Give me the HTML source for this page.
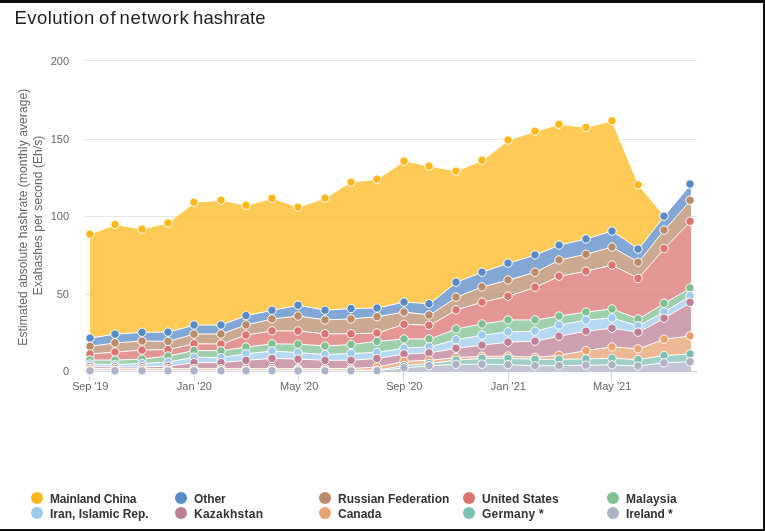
<!DOCTYPE html>
<html lang="en">
<head>
<meta charset="utf-8">
<title>Evolution of network hashrate</title>
<style>
html,body{margin:0;padding:0;background:#fff;}
body{width:765px;height:531px;overflow:hidden;position:relative;font-family:"Liberation Sans",Arial,sans-serif;}
#frame{position:absolute;left:0;top:0;width:765px;height:531px;box-sizing:border-box;border-top:3px solid #0d0d0d;border-right:2px solid #0d0d0d;border-bottom:2px solid #0d0d0d;background:#fff;}
h1{position:absolute;left:0;top:7px;width:400px;height:22px;transform:translateY(-0.4px);margin:0;font-size:18.5px;line-height:22px;font-weight:normal;color:#1e1e26;white-space:nowrap;}
h1 span{position:absolute;top:0;}
svg{position:absolute;left:0;top:0;}
svg text{font-family:"Liberation Sans",Arial,sans-serif;}
.yl{font-size:11px;fill:#666;text-anchor:end;}
.xl{font-size:11px;fill:#666;text-anchor:middle;}
.yt{font-size:12px;fill:#666;text-anchor:middle;}
.lg{font-size:12px;font-weight:bold;fill:#333;}
</style>
</head>
<body>
<div id="frame"></div>
<h1><span style="left:14.4px;letter-spacing:0.46px">Evolution</span> <span style="left:99.1px;letter-spacing:1.1px">of</span> <span style="left:119.5px;letter-spacing:0.76px">network</span> <span style="left:193.1px;letter-spacing:0.07px">hashrate</span></h1>
<svg width="765" height="531" viewBox="0 0 765 531">

<g stroke="#e6e6e6" stroke-width="1" shape-rendering="crispEdges">
<line x1="84" x2="697" y1="60.5" y2="60.5"/>
<line x1="84" x2="697" y1="139.5" y2="139.5"/>
<line x1="84" x2="697" y1="216.5" y2="216.5"/>
<line x1="84" x2="697" y1="294.5" y2="294.5"/>
</g>
<g stroke="#ccd6eb" stroke-width="1" shape-rendering="crispEdges">
<line x1="84" x2="697" y1="371.5" y2="371.5"/>
<line x1="89.5" x2="89.5" y1="371" y2="381"/>
<line x1="194.5" x2="194.5" y1="371" y2="381"/>
<line x1="298.5" x2="298.5" y1="371" y2="381"/>
<line x1="403.5" x2="403.5" y1="371" y2="381"/>
<line x1="508.5" x2="508.5" y1="371" y2="381"/>
<line x1="611.5" x2="611.5" y1="371" y2="381"/>
</g>
<g>
<path d="M90.05 234.2 L115.8 224.4 L142.41 229.15 L168.16 222.9 L194.77 202.2 L221.39 200.2 L246.28 205.2 L272.89 198.3 L298.64 207.2 L325.25 198.1 L351 182.1 L377.61 179.1 L404.22 161.1 L429.98 166.1 L456.59 171.1 L482.34 160.3 L508.95 140 L535.56 131.2 L559.59 124.3 L586.21 127.4 L611.96 120.8 L638.57 184.8 L664.32 216.15 L664.32 216.15 L638.57 249.05 L611.96 231.05 L586.21 238.95 L559.59 245.1 L535.56 254.95 L508.95 263.1 L482.34 272.15 L456.59 282.15 L429.98 303.75 L404.22 302.05 L377.61 308 L351 308.5 L325.25 310.2 L298.64 305.2 L272.89 310.2 L246.28 315.6 L221.39 325 L194.77 325 L168.16 332.1 L142.41 332.3 L115.8 334.1 L90.05 338.1 Z" fill="#ffb81c" fill-opacity="0.75"/>
<path d="M90.05 234.2 L115.8 224.4 L142.41 229.15 L168.16 222.9 L194.77 202.2 L221.39 200.2 L246.28 205.2 L272.89 198.3 L298.64 207.2 L325.25 198.1 L351 182.1 L377.61 179.1 L404.22 161.1 L429.98 166.1 L456.59 171.1 L482.34 160.3 L508.95 140 L535.56 131.2 L559.59 124.3 L586.21 127.4 L611.96 120.8 L638.57 184.8 L664.32 216.15" fill="none" stroke="#fff" stroke-width="1" stroke-linejoin="round" stroke-linecap="round"/>
<g fill="#ffb81c" stroke="#fff" stroke-width="1">
<circle cx="90" cy="234.2" r="4.2"/>
<circle cx="115" cy="224.4" r="4.2"/>
<circle cx="142" cy="229.15" r="4.2"/>
<circle cx="168" cy="222.9" r="4.2"/>
<circle cx="194" cy="202.2" r="4.2"/>
<circle cx="221" cy="200.2" r="4.2"/>
<circle cx="246" cy="205.2" r="4.2"/>
<circle cx="272" cy="198.3" r="4.2"/>
<circle cx="298" cy="207.2" r="4.2"/>
<circle cx="325" cy="198.1" r="4.2"/>
<circle cx="351" cy="182.1" r="4.2"/>
<circle cx="377" cy="179.1" r="4.2"/>
<circle cx="404" cy="161.1" r="4.2"/>
<circle cx="429" cy="166.1" r="4.2"/>
<circle cx="456" cy="171.1" r="4.2"/>
<circle cx="482" cy="160.3" r="4.2"/>
<circle cx="508" cy="140" r="4.2"/>
<circle cx="535" cy="131.2" r="4.2"/>
<circle cx="559" cy="124.3" r="4.2"/>
<circle cx="586" cy="127.4" r="4.2"/>
<circle cx="612" cy="120.8" r="4.2"/>
<circle cx="638" cy="184.8" r="4.2"/>
<circle cx="664" cy="216.15" r="4.2"/>
</g></g>
<g>
<path d="M90.05 338.1 L115.8 334.1 L142.41 332.3 L168.16 332.1 L194.77 325 L221.39 325 L246.28 315.6 L272.89 310.2 L298.64 305.2 L325.25 310.2 L351 308.5 L377.61 308 L404.22 302.05 L429.98 303.75 L456.59 282.15 L482.34 272.15 L508.95 263.1 L535.56 254.95 L559.59 245.1 L586.21 238.95 L611.96 231.05 L638.57 249.05 L664.32 216.15 L690.93 184.05 L690.93 200.25 L664.32 230.05 L638.57 262.25 L611.96 247.05 L586.21 254.25 L559.59 259.95 L535.56 272.15 L508.95 279.95 L482.34 286.85 L456.59 297.15 L429.98 314.95 L404.22 312.05 L377.61 316.7 L351 318.9 L325.25 319.9 L298.64 316 L272.89 318.9 L246.28 324.9 L221.39 334 L194.77 334 L168.16 341.4 L142.41 341 L115.8 342.9 L90.05 346.3 Z" fill="#5a8ac6" fill-opacity="0.75"/>
<path d="M90.05 338.1 L115.8 334.1 L142.41 332.3 L168.16 332.1 L194.77 325 L221.39 325 L246.28 315.6 L272.89 310.2 L298.64 305.2 L325.25 310.2 L351 308.5 L377.61 308 L404.22 302.05 L429.98 303.75 L456.59 282.15 L482.34 272.15 L508.95 263.1 L535.56 254.95 L559.59 245.1 L586.21 238.95 L611.96 231.05 L638.57 249.05 L664.32 216.15 L690.93 184.05" fill="none" stroke="#fff" stroke-width="1" stroke-linejoin="round" stroke-linecap="round"/>
<g fill="#5a8ac6" stroke="#fff" stroke-width="1">
<circle cx="90" cy="338.1" r="4.2"/>
<circle cx="115" cy="334.1" r="4.2"/>
<circle cx="142" cy="332.3" r="4.2"/>
<circle cx="168" cy="332.1" r="4.2"/>
<circle cx="194" cy="325" r="4.2"/>
<circle cx="221" cy="325" r="4.2"/>
<circle cx="246" cy="315.6" r="4.2"/>
<circle cx="272" cy="310.2" r="4.2"/>
<circle cx="298" cy="305.2" r="4.2"/>
<circle cx="325" cy="310.2" r="4.2"/>
<circle cx="351" cy="308.5" r="4.2"/>
<circle cx="377" cy="308" r="4.2"/>
<circle cx="404" cy="302.05" r="4.2"/>
<circle cx="429" cy="303.75" r="4.2"/>
<circle cx="456" cy="282.15" r="4.2"/>
<circle cx="482" cy="272.15" r="4.2"/>
<circle cx="508" cy="263.1" r="4.2"/>
<circle cx="535" cy="254.95" r="4.2"/>
<circle cx="559" cy="245.1" r="4.2"/>
<circle cx="586" cy="238.95" r="4.2"/>
<circle cx="612" cy="231.05" r="4.2"/>
<circle cx="638" cy="249.05" r="4.2"/>
<circle cx="664" cy="216.15" r="4.2"/>
<circle cx="690" cy="184.05" r="4.2"/>
</g></g>
<g>
<path d="M90.05 346.3 L115.8 342.9 L142.41 341 L168.16 341.4 L194.77 334 L221.39 334 L246.28 324.9 L272.89 318.9 L298.64 316 L325.25 319.9 L351 318.9 L377.61 316.7 L404.22 312.05 L429.98 314.95 L456.59 297.15 L482.34 286.85 L508.95 279.95 L535.56 272.15 L559.59 259.95 L586.21 254.25 L611.96 247.05 L638.57 262.25 L664.32 230.05 L690.93 200.25 L690.93 221.25 L664.32 248.45 L638.57 278.35 L611.96 265.15 L586.21 271.15 L559.59 276.15 L535.56 287.15 L508.95 296.15 L482.34 302.15 L456.59 309.85 L429.98 325.25 L404.22 324.25 L377.61 333 L351 333.8 L325.25 333.8 L298.64 331 L272.89 330.8 L246.28 335 L221.39 344 L194.77 343.8 L168.16 349.6 L142.41 350 L115.8 352 L90.05 354 Z" fill="#b98b6b" fill-opacity="0.75"/>
<path d="M90.05 346.3 L115.8 342.9 L142.41 341 L168.16 341.4 L194.77 334 L221.39 334 L246.28 324.9 L272.89 318.9 L298.64 316 L325.25 319.9 L351 318.9 L377.61 316.7 L404.22 312.05 L429.98 314.95 L456.59 297.15 L482.34 286.85 L508.95 279.95 L535.56 272.15 L559.59 259.95 L586.21 254.25 L611.96 247.05 L638.57 262.25 L664.32 230.05 L690.93 200.25" fill="none" stroke="#fff" stroke-width="1" stroke-linejoin="round" stroke-linecap="round"/>
<g fill="#b98b6b" stroke="#fff" stroke-width="1">
<circle cx="90" cy="346.3" r="4.2"/>
<circle cx="115" cy="342.9" r="4.2"/>
<circle cx="142" cy="341" r="4.2"/>
<circle cx="168" cy="341.4" r="4.2"/>
<circle cx="194" cy="334" r="4.2"/>
<circle cx="221" cy="334" r="4.2"/>
<circle cx="246" cy="324.9" r="4.2"/>
<circle cx="272" cy="318.9" r="4.2"/>
<circle cx="298" cy="316" r="4.2"/>
<circle cx="325" cy="319.9" r="4.2"/>
<circle cx="351" cy="318.9" r="4.2"/>
<circle cx="377" cy="316.7" r="4.2"/>
<circle cx="404" cy="312.05" r="4.2"/>
<circle cx="429" cy="314.95" r="4.2"/>
<circle cx="456" cy="297.15" r="4.2"/>
<circle cx="482" cy="286.85" r="4.2"/>
<circle cx="508" cy="279.95" r="4.2"/>
<circle cx="535" cy="272.15" r="4.2"/>
<circle cx="559" cy="259.95" r="4.2"/>
<circle cx="586" cy="254.25" r="4.2"/>
<circle cx="612" cy="247.05" r="4.2"/>
<circle cx="638" cy="262.25" r="4.2"/>
<circle cx="664" cy="230.05" r="4.2"/>
<circle cx="690" cy="200.25" r="4.2"/>
</g></g>
<g>
<path d="M90.05 354 L115.8 352 L142.41 350 L168.16 349.6 L194.77 343.8 L221.39 344 L246.28 335 L272.89 330.8 L298.64 331 L325.25 333.8 L351 333.8 L377.61 333 L404.22 324.25 L429.98 325.25 L456.59 309.85 L482.34 302.15 L508.95 296.15 L535.56 287.15 L559.59 276.15 L586.21 271.15 L611.96 265.15 L638.57 278.35 L664.32 248.45 L690.93 221.25 L690.93 287.95 L664.32 303.25 L638.57 318.9 L611.96 308.95 L586.21 312.05 L559.59 316.05 L535.56 319.95 L508.95 319.95 L482.34 323.95 L456.59 328.95 L429.98 338.95 L404.22 338.95 L377.61 341.4 L351 344.5 L325.25 346 L298.64 344.2 L272.89 343.8 L246.28 347 L221.39 350.8 L194.77 350.4 L168.16 356 L142.41 359.1 L115.8 360.1 L90.05 360 Z" fill="#db7371" fill-opacity="0.75"/>
<path d="M90.05 354 L115.8 352 L142.41 350 L168.16 349.6 L194.77 343.8 L221.39 344 L246.28 335 L272.89 330.8 L298.64 331 L325.25 333.8 L351 333.8 L377.61 333 L404.22 324.25 L429.98 325.25 L456.59 309.85 L482.34 302.15 L508.95 296.15 L535.56 287.15 L559.59 276.15 L586.21 271.15 L611.96 265.15 L638.57 278.35 L664.32 248.45 L690.93 221.25" fill="none" stroke="#fff" stroke-width="1" stroke-linejoin="round" stroke-linecap="round"/>
<g fill="#db7371" stroke="#fff" stroke-width="1">
<circle cx="90" cy="354" r="4.2"/>
<circle cx="115" cy="352" r="4.2"/>
<circle cx="142" cy="350" r="4.2"/>
<circle cx="168" cy="349.6" r="4.2"/>
<circle cx="194" cy="343.8" r="4.2"/>
<circle cx="221" cy="344" r="4.2"/>
<circle cx="246" cy="335" r="4.2"/>
<circle cx="272" cy="330.8" r="4.2"/>
<circle cx="298" cy="331" r="4.2"/>
<circle cx="325" cy="333.8" r="4.2"/>
<circle cx="351" cy="333.8" r="4.2"/>
<circle cx="377" cy="333" r="4.2"/>
<circle cx="404" cy="324.25" r="4.2"/>
<circle cx="429" cy="325.25" r="4.2"/>
<circle cx="456" cy="309.85" r="4.2"/>
<circle cx="482" cy="302.15" r="4.2"/>
<circle cx="508" cy="296.15" r="4.2"/>
<circle cx="535" cy="287.15" r="4.2"/>
<circle cx="559" cy="276.15" r="4.2"/>
<circle cx="586" cy="271.15" r="4.2"/>
<circle cx="612" cy="265.15" r="4.2"/>
<circle cx="638" cy="278.35" r="4.2"/>
<circle cx="664" cy="248.45" r="4.2"/>
<circle cx="690" cy="221.25" r="4.2"/>
</g></g>
<g>
<path d="M90.05 360 L115.8 360.1 L142.41 359.1 L168.16 356 L194.77 350.4 L221.39 350.8 L246.28 347 L272.89 343.8 L298.64 344.2 L325.25 346 L351 344.5 L377.61 341.4 L404.22 338.95 L429.98 338.95 L456.59 328.95 L482.34 323.95 L508.95 319.95 L535.56 319.95 L559.59 316.05 L586.21 312.05 L611.96 308.95 L638.57 318.9 L664.32 303.25 L690.93 287.95 L690.93 295.75 L664.32 311.85 L638.57 325.85 L611.96 317.95 L586.21 320.05 L559.59 324.95 L535.56 331.15 L508.95 331.85 L482.34 335.15 L456.59 339.65 L429.98 346.75 L404.22 348.15 L377.61 352.4 L351 353.5 L325.25 354.5 L298.64 352.7 L272.89 351 L246.28 353.8 L221.39 357.6 L194.77 357.2 L168.16 362 L142.41 363.5 L115.8 364.6 L90.05 364 Z" fill="#80bf90" fill-opacity="0.75"/>
<path d="M90.05 360 L115.8 360.1 L142.41 359.1 L168.16 356 L194.77 350.4 L221.39 350.8 L246.28 347 L272.89 343.8 L298.64 344.2 L325.25 346 L351 344.5 L377.61 341.4 L404.22 338.95 L429.98 338.95 L456.59 328.95 L482.34 323.95 L508.95 319.95 L535.56 319.95 L559.59 316.05 L586.21 312.05 L611.96 308.95 L638.57 318.9 L664.32 303.25 L690.93 287.95" fill="none" stroke="#fff" stroke-width="1" stroke-linejoin="round" stroke-linecap="round"/>
<g fill="#80bf90" stroke="#fff" stroke-width="1">
<circle cx="90" cy="360" r="4.2"/>
<circle cx="115" cy="360.1" r="4.2"/>
<circle cx="142" cy="359.1" r="4.2"/>
<circle cx="168" cy="356" r="4.2"/>
<circle cx="194" cy="350.4" r="4.2"/>
<circle cx="221" cy="350.8" r="4.2"/>
<circle cx="246" cy="347" r="4.2"/>
<circle cx="272" cy="343.8" r="4.2"/>
<circle cx="298" cy="344.2" r="4.2"/>
<circle cx="325" cy="346" r="4.2"/>
<circle cx="351" cy="344.5" r="4.2"/>
<circle cx="377" cy="341.4" r="4.2"/>
<circle cx="404" cy="338.95" r="4.2"/>
<circle cx="429" cy="338.95" r="4.2"/>
<circle cx="456" cy="328.95" r="4.2"/>
<circle cx="482" cy="323.95" r="4.2"/>
<circle cx="508" cy="319.95" r="4.2"/>
<circle cx="535" cy="319.95" r="4.2"/>
<circle cx="559" cy="316.05" r="4.2"/>
<circle cx="586" cy="312.05" r="4.2"/>
<circle cx="612" cy="308.95" r="4.2"/>
<circle cx="638" cy="318.9" r="4.2"/>
<circle cx="664" cy="303.25" r="4.2"/>
<circle cx="690" cy="287.95" r="4.2"/>
</g></g>
<g>
<path d="M90.05 364 L115.8 364.6 L142.41 363.5 L168.16 362 L194.77 357.2 L221.39 357.6 L246.28 353.8 L272.89 351 L298.64 352.7 L325.25 354.5 L351 353.5 L377.61 352.4 L404.22 348.15 L429.98 346.75 L456.59 339.65 L482.34 335.15 L508.95 331.85 L535.56 331.15 L559.59 324.95 L586.21 320.05 L611.96 317.95 L638.57 325.85 L664.32 311.85 L690.93 295.75 L690.93 302.25 L664.32 318.25 L638.57 332.2 L611.96 328.25 L586.21 331.15 L559.59 336.15 L535.56 341.15 L508.95 342.15 L482.34 345.15 L456.59 348.25 L429.98 352.85 L404.22 354.05 L377.61 358.4 L351 360.3 L325.25 360.3 L298.64 359.1 L272.89 358.4 L246.28 360.3 L221.39 362.6 L194.77 362.6 L168.16 366.2 L142.41 366.8 L115.8 367 L90.05 366.4 Z" fill="#9ecbed" fill-opacity="0.75"/>
<path d="M90.05 364 L115.8 364.6 L142.41 363.5 L168.16 362 L194.77 357.2 L221.39 357.6 L246.28 353.8 L272.89 351 L298.64 352.7 L325.25 354.5 L351 353.5 L377.61 352.4 L404.22 348.15 L429.98 346.75 L456.59 339.65 L482.34 335.15 L508.95 331.85 L535.56 331.15 L559.59 324.95 L586.21 320.05 L611.96 317.95 L638.57 325.85 L664.32 311.85 L690.93 295.75" fill="none" stroke="#fff" stroke-width="1" stroke-linejoin="round" stroke-linecap="round"/>
<g fill="#9ecbed" stroke="#fff" stroke-width="1">
<circle cx="90" cy="364" r="4.2"/>
<circle cx="115" cy="364.6" r="4.2"/>
<circle cx="142" cy="363.5" r="4.2"/>
<circle cx="168" cy="362" r="4.2"/>
<circle cx="194" cy="357.2" r="4.2"/>
<circle cx="221" cy="357.6" r="4.2"/>
<circle cx="246" cy="353.8" r="4.2"/>
<circle cx="272" cy="351" r="4.2"/>
<circle cx="298" cy="352.7" r="4.2"/>
<circle cx="325" cy="354.5" r="4.2"/>
<circle cx="351" cy="353.5" r="4.2"/>
<circle cx="377" cy="352.4" r="4.2"/>
<circle cx="404" cy="348.15" r="4.2"/>
<circle cx="429" cy="346.75" r="4.2"/>
<circle cx="456" cy="339.65" r="4.2"/>
<circle cx="482" cy="335.15" r="4.2"/>
<circle cx="508" cy="331.85" r="4.2"/>
<circle cx="535" cy="331.15" r="4.2"/>
<circle cx="559" cy="324.95" r="4.2"/>
<circle cx="586" cy="320.05" r="4.2"/>
<circle cx="612" cy="317.95" r="4.2"/>
<circle cx="638" cy="325.85" r="4.2"/>
<circle cx="664" cy="311.85" r="4.2"/>
<circle cx="690" cy="295.75" r="4.2"/>
</g></g>
<g>
<path d="M90.05 366.4 L115.8 367 L142.41 366.8 L168.16 366.2 L194.77 362.6 L221.39 362.6 L246.28 360.3 L272.89 358.4 L298.64 359.1 L325.25 360.3 L351 360.3 L377.61 358.4 L404.22 354.05 L429.98 352.85 L456.59 348.25 L482.34 345.15 L508.95 342.15 L535.56 341.15 L559.59 336.15 L586.21 331.15 L611.96 328.25 L638.57 332.2 L664.32 318.25 L690.93 302.25 L690.93 335.9 L664.32 339.2 L638.57 348.9 L611.96 346.9 L586.21 350.6 L559.59 355.3 L535.56 357.3 L508.95 356.1 L482.34 356.3 L456.59 357.5 L429.98 360.3 L404.22 361.3 L377.61 367 L351 368.5 L325.25 368.65 L298.64 368.65 L272.89 368.65 L246.28 368.65 L221.39 368.65 L194.77 368.65 L168.16 368.65 L142.41 368.65 L115.8 368.65 L90.05 368.4 Z" fill="#bd7f95" fill-opacity="0.75"/>
<path d="M90.05 366.4 L115.8 367 L142.41 366.8 L168.16 366.2 L194.77 362.6 L221.39 362.6 L246.28 360.3 L272.89 358.4 L298.64 359.1 L325.25 360.3 L351 360.3 L377.61 358.4 L404.22 354.05 L429.98 352.85 L456.59 348.25 L482.34 345.15 L508.95 342.15 L535.56 341.15 L559.59 336.15 L586.21 331.15 L611.96 328.25 L638.57 332.2 L664.32 318.25 L690.93 302.25" fill="none" stroke="#fff" stroke-width="1" stroke-linejoin="round" stroke-linecap="round"/>
<g fill="#bd7f95" stroke="#fff" stroke-width="1">
<circle cx="90" cy="366.4" r="4.2"/>
<circle cx="115" cy="367" r="4.2"/>
<circle cx="142" cy="366.8" r="4.2"/>
<circle cx="168" cy="366.2" r="4.2"/>
<circle cx="194" cy="362.6" r="4.2"/>
<circle cx="221" cy="362.6" r="4.2"/>
<circle cx="246" cy="360.3" r="4.2"/>
<circle cx="272" cy="358.4" r="4.2"/>
<circle cx="298" cy="359.1" r="4.2"/>
<circle cx="325" cy="360.3" r="4.2"/>
<circle cx="351" cy="360.3" r="4.2"/>
<circle cx="377" cy="358.4" r="4.2"/>
<circle cx="404" cy="354.05" r="4.2"/>
<circle cx="429" cy="352.85" r="4.2"/>
<circle cx="456" cy="348.25" r="4.2"/>
<circle cx="482" cy="345.15" r="4.2"/>
<circle cx="508" cy="342.15" r="4.2"/>
<circle cx="535" cy="341.15" r="4.2"/>
<circle cx="559" cy="336.15" r="4.2"/>
<circle cx="586" cy="331.15" r="4.2"/>
<circle cx="612" cy="328.25" r="4.2"/>
<circle cx="638" cy="332.2" r="4.2"/>
<circle cx="664" cy="318.25" r="4.2"/>
<circle cx="690" cy="302.25" r="4.2"/>
</g></g>
<g>
<path d="M90.05 368.4 L115.8 368.65 L142.41 368.65 L168.16 368.65 L194.77 368.65 L221.39 368.65 L246.28 368.65 L272.89 368.65 L298.64 368.65 L325.25 368.65 L351 368.5 L377.61 367 L404.22 361.3 L429.98 360.3 L456.59 357.5 L482.34 356.3 L508.95 356.1 L535.56 357.3 L559.59 355.3 L586.21 350.6 L611.96 346.9 L638.57 348.9 L664.32 339.2 L690.93 335.9 L690.93 354 L664.32 355.5 L638.57 359.6 L611.96 358.3 L586.21 358.9 L559.59 359.35 L535.56 359.35 L508.95 358.3 L482.34 358.3 L456.59 360.2 L429.98 363.4 L404.22 365.6 L377.61 370.1 L351 370.3 L325.25 370.3 L298.64 370 L272.89 370.3 L246.28 370.3 L221.39 370.3 L194.77 370.3 L168.16 370.3 L142.41 370.3 L115.8 370.3 L90.05 370.1 Z" fill="#e7a270" fill-opacity="0.75"/>
<path d="M90.05 368.4 L115.8 368.65 L142.41 368.65 L168.16 368.65 L194.77 368.65 L221.39 368.65 L246.28 368.65 L272.89 368.65 L298.64 368.65 L325.25 368.65 L351 368.5 L377.61 367 L404.22 361.3 L429.98 360.3 L456.59 357.5 L482.34 356.3 L508.95 356.1 L535.56 357.3 L559.59 355.3 L586.21 350.6 L611.96 346.9 L638.57 348.9 L664.32 339.2 L690.93 335.9" fill="none" stroke="#fff" stroke-width="1" stroke-linejoin="round" stroke-linecap="round"/>
<g fill="#e7a270" stroke="#fff" stroke-width="1">
<circle cx="90" cy="368.4" r="4.2"/>
<circle cx="115" cy="368.65" r="4.2"/>
<circle cx="142" cy="368.65" r="4.2"/>
<circle cx="168" cy="368.65" r="4.2"/>
<circle cx="194" cy="368.65" r="4.2"/>
<circle cx="221" cy="368.65" r="4.2"/>
<circle cx="246" cy="368.65" r="4.2"/>
<circle cx="272" cy="368.65" r="4.2"/>
<circle cx="298" cy="368.65" r="4.2"/>
<circle cx="325" cy="368.65" r="4.2"/>
<circle cx="351" cy="368.5" r="4.2"/>
<circle cx="377" cy="367" r="4.2"/>
<circle cx="404" cy="361.3" r="4.2"/>
<circle cx="429" cy="360.3" r="4.2"/>
<circle cx="456" cy="357.5" r="4.2"/>
<circle cx="482" cy="356.3" r="4.2"/>
<circle cx="508" cy="356.1" r="4.2"/>
<circle cx="535" cy="357.3" r="4.2"/>
<circle cx="559" cy="355.3" r="4.2"/>
<circle cx="586" cy="350.6" r="4.2"/>
<circle cx="612" cy="346.9" r="4.2"/>
<circle cx="638" cy="348.9" r="4.2"/>
<circle cx="664" cy="339.2" r="4.2"/>
<circle cx="690" cy="335.9" r="4.2"/>
</g></g>
<g>
<path d="M90.05 370.1 L115.8 370.3 L142.41 370.3 L168.16 370.3 L194.77 370.3 L221.39 370.3 L246.28 370.3 L272.89 370.3 L298.64 370 L325.25 370.3 L351 370.3 L377.61 370.1 L404.22 365.6 L429.98 363.4 L456.59 360.2 L482.34 358.3 L508.95 358.3 L535.56 359.35 L559.59 359.35 L586.21 358.9 L611.96 358.3 L638.57 359.6 L664.32 355.5 L690.93 354 L690.93 361.8 L664.32 362.7 L638.57 366 L611.96 364.9 L586.21 365.2 L559.59 365.7 L535.56 365.8 L508.95 364.7 L482.34 364.2 L456.59 364.3 L429.98 365.7 L404.22 367.8 L377.61 370.7 L351 370.8 L325.25 370.8 L298.64 370.8 L272.89 370.8 L246.28 370.8 L221.39 370.8 L194.77 370.8 L168.16 370.8 L142.41 370.8 L115.8 370.8 L90.05 370.8 Z" fill="#7fc0b4" fill-opacity="0.75"/>
<path d="M90.05 370.1 L115.8 370.3 L142.41 370.3 L168.16 370.3 L194.77 370.3 L221.39 370.3 L246.28 370.3 L272.89 370.3 L298.64 370 L325.25 370.3 L351 370.3 L377.61 370.1 L404.22 365.6 L429.98 363.4 L456.59 360.2 L482.34 358.3 L508.95 358.3 L535.56 359.35 L559.59 359.35 L586.21 358.9 L611.96 358.3 L638.57 359.6 L664.32 355.5 L690.93 354" fill="none" stroke="#fff" stroke-width="1" stroke-linejoin="round" stroke-linecap="round"/>
<g fill="#7fc0b4" stroke="#fff" stroke-width="1">
<circle cx="90" cy="370.1" r="4.2"/>
<circle cx="115" cy="370.3" r="4.2"/>
<circle cx="142" cy="370.3" r="4.2"/>
<circle cx="168" cy="370.3" r="4.2"/>
<circle cx="194" cy="370.3" r="4.2"/>
<circle cx="221" cy="370.3" r="4.2"/>
<circle cx="246" cy="370.3" r="4.2"/>
<circle cx="272" cy="370.3" r="4.2"/>
<circle cx="298" cy="370" r="4.2"/>
<circle cx="325" cy="370.3" r="4.2"/>
<circle cx="351" cy="370.3" r="4.2"/>
<circle cx="377" cy="370.1" r="4.2"/>
<circle cx="404" cy="365.6" r="4.2"/>
<circle cx="429" cy="363.4" r="4.2"/>
<circle cx="456" cy="360.2" r="4.2"/>
<circle cx="482" cy="358.3" r="4.2"/>
<circle cx="508" cy="358.3" r="4.2"/>
<circle cx="535" cy="359.35" r="4.2"/>
<circle cx="559" cy="359.35" r="4.2"/>
<circle cx="586" cy="358.9" r="4.2"/>
<circle cx="612" cy="358.3" r="4.2"/>
<circle cx="638" cy="359.6" r="4.2"/>
<circle cx="664" cy="355.5" r="4.2"/>
<circle cx="690" cy="354" r="4.2"/>
</g></g>
<g>
<path d="M90.05 370.8 L115.8 370.8 L142.41 370.8 L168.16 370.8 L194.77 370.8 L221.39 370.8 L246.28 370.8 L272.89 370.8 L298.64 370.8 L325.25 370.8 L351 370.8 L377.61 370.7 L404.22 367.8 L429.98 365.7 L456.59 364.3 L482.34 364.2 L508.95 364.7 L535.56 365.8 L559.59 365.7 L586.21 365.2 L611.96 364.9 L638.57 366 L664.32 362.7 L690.93 361.8 L690.93 371.5 L664.32 371.5 L638.57 371.5 L611.96 371.5 L586.21 371.5 L559.59 371.5 L535.56 371.5 L508.95 371.5 L482.34 371.5 L456.59 371.5 L429.98 371.5 L404.22 371.5 L377.61 371.5 L351 371.5 L325.25 371.5 L298.64 371.5 L272.89 371.5 L246.28 371.5 L221.39 371.5 L194.77 371.5 L168.16 371.5 L142.41 371.5 L115.8 371.5 L90.05 371.5 Z" fill="#adb2c5" fill-opacity="0.75"/>
<path d="M90.05 370.8 L115.8 370.8 L142.41 370.8 L168.16 370.8 L194.77 370.8 L221.39 370.8 L246.28 370.8 L272.89 370.8 L298.64 370.8 L325.25 370.8 L351 370.8 L377.61 370.7 L404.22 367.8 L429.98 365.7 L456.59 364.3 L482.34 364.2 L508.95 364.7 L535.56 365.8 L559.59 365.7 L586.21 365.2 L611.96 364.9 L638.57 366 L664.32 362.7 L690.93 361.8" fill="none" stroke="#fff" stroke-width="1" stroke-linejoin="round" stroke-linecap="round"/>
<g fill="#adb2c5" stroke="#fff" stroke-width="1">
<circle cx="90" cy="370.8" r="4.2"/>
<circle cx="115" cy="370.8" r="4.2"/>
<circle cx="142" cy="370.8" r="4.2"/>
<circle cx="168" cy="370.8" r="4.2"/>
<circle cx="194" cy="370.8" r="4.2"/>
<circle cx="221" cy="370.8" r="4.2"/>
<circle cx="246" cy="370.8" r="4.2"/>
<circle cx="272" cy="370.8" r="4.2"/>
<circle cx="298" cy="370.8" r="4.2"/>
<circle cx="325" cy="370.8" r="4.2"/>
<circle cx="351" cy="370.8" r="4.2"/>
<circle cx="377" cy="370.7" r="4.2"/>
<circle cx="404" cy="367.8" r="4.2"/>
<circle cx="429" cy="365.7" r="4.2"/>
<circle cx="456" cy="364.3" r="4.2"/>
<circle cx="482" cy="364.2" r="4.2"/>
<circle cx="508" cy="364.7" r="4.2"/>
<circle cx="535" cy="365.8" r="4.2"/>
<circle cx="559" cy="365.7" r="4.2"/>
<circle cx="586" cy="365.2" r="4.2"/>
<circle cx="612" cy="364.9" r="4.2"/>
<circle cx="638" cy="366" r="4.2"/>
<circle cx="664" cy="362.7" r="4.2"/>
<circle cx="690" cy="361.8" r="4.2"/>
</g></g>
<text class="yl" x="69" y="65">200</text>
<text class="yl" x="69" y="143">150</text>
<text class="yl" x="69" y="220">100</text>
<text class="yl" x="69" y="298">50</text>
<text class="yl" x="69" y="375">0</text>
<text class="xl" x="90.2" y="390" style="letter-spacing:-0.12px">Sep &#39;19</text>
<text class="xl" x="194.35" y="390">Jan &#39;20</text>
<text class="xl" x="299.2" y="390">May &#39;20</text>
<text class="xl" x="404.2" y="390" style="letter-spacing:-0.12px">Sep &#39;20</text>
<text class="xl" x="508.35" y="390">Jan &#39;21</text>
<text class="xl" x="612.2" y="390">May &#39;21</text>
<text class="yt" transform="translate(27,217.1) rotate(-90)" x="0" y="0" style="letter-spacing:0.11px">Estimated absolute hashrate (monthly average)</text>
<text class="yt" transform="translate(41.5,215.4) rotate(-90)" x="0" y="0" style="letter-spacing:0.08px">Exahashes per second (Eh/s)</text>
<circle cx="37" cy="498" r="6" fill="#ffb81c"/>
<text class="lg" x="50" y="502.5" style="letter-spacing:-0.17px">Mainland China</text>
<circle cx="181" cy="498" r="6" fill="#5a8ac6"/>
<text class="lg" x="194" y="502.5" style="letter-spacing:-0.07px">Other</text>
<circle cx="325" cy="498" r="6" fill="#b98b6b"/>
<text class="lg" x="338" y="502.5">Russian Federation</text>
<circle cx="469" cy="498" r="6" fill="#db7371"/>
<text class="lg" x="482" y="502.5">United States</text>
<circle cx="613" cy="498" r="6" fill="#80bf90"/>
<text class="lg" x="626" y="502.5" style="letter-spacing:0.1px">Malaysia</text>
<circle cx="37" cy="513" r="6" fill="#9ecbed"/>
<text class="lg" x="50" y="517.5">Iran, Islamic Rep.</text>
<circle cx="181" cy="513" r="6" fill="#bd7f95"/>
<text class="lg" x="194" y="517.5" style="letter-spacing:0.26px">Kazakhstan</text>
<circle cx="325" cy="513" r="6" fill="#e7a270"/>
<text class="lg" x="338" y="517.5">Canada</text>
<circle cx="469" cy="513" r="6" fill="#7fc0b4"/>
<text class="lg" x="482" y="517.5" style="letter-spacing:0.19px">Germany *</text>
<circle cx="613" cy="513" r="6" fill="#adb2c5"/>
<text class="lg" x="626" y="517.5" style="letter-spacing:-0.09px">Ireland *</text>
</svg>
</body>
</html>
